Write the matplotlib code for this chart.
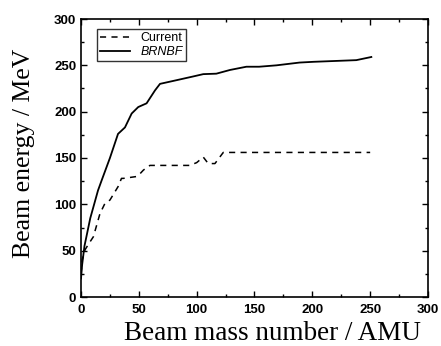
import matplotlib
matplotlib.use("Agg")
import matplotlib.pyplot as plt
from matplotlib.ticker import MultipleLocator

# Data
current_x = [0, 1, 3.5, 7, 10.7, 16.4, 20.7, 25, 32, 35, 36.6, 48, 51, 54, 59.6, 75, 94, 100, 105.7, 110, 115.8, 123, 150, 200, 250]
current_y = [25, 40, 51, 58, 65, 90, 101, 104.6, 119, 128, 128, 130, 133, 137, 142, 142, 142, 145, 151, 144, 144, 156, 156, 156, 156]

brnbf_x = [0, 1, 3, 8, 14.7, 17.9, 25, 32, 38, 43.8, 49.5, 56.7, 64, 68.3, 82.7, 97, 105.7, 117, 128.8, 143, 154, 169, 189, 201, 238, 251]
brnbf_y = [20, 35, 55, 85, 115, 126, 150, 176, 183, 198, 205, 209, 223, 230, 234, 238, 240.5, 241, 245, 248.5, 248.5, 250, 253, 253.8, 255.6, 259]

x_ticks = [0, 50, 100, 150, 200, 250, 300]
y_ticks = [0, 50, 100, 150, 200, 250, 300]

W, H = 441, 346
fig = plt.figure(figsize=(W / 100, H / 100), dpi=100)
ax = fig.add_axes([81 / W, 1 - 297 / H, (428 - 81) / W, (297 - 19) / H])

ax.plot(current_x, current_y, color="black", lw=1.1, ls=(0, (4, 3.5)), label="Current")
ax.plot(brnbf_x, brnbf_y, color="black", lw=1.3, ls="-", label="BRNBF")

ax.set_xlim(0, 300)
ax.set_ylim(0, 300)
ax.set_xticks(x_ticks)
ax.set_yticks(y_ticks)
ax.xaxis.set_minor_locator(MultipleLocator(25))
ax.yaxis.set_minor_locator(MultipleLocator(25))
ax.tick_params(which="both", direction="in", top=True, right=True, width=1.0)
ax.tick_params(which="major", length=4, labelsize=9.5)
ax.tick_params(which="minor", length=2.5)
ax.tick_params(axis="x", which="major", pad=5)
ax.tick_params(axis="y", which="major", pad=3.5)
for lab in ax.get_xticklabels() + ax.get_yticklabels():
    lab.set_fontfamily("Liberation Sans")
    lab.set_fontweight("bold")
for s in ax.spines.values():
    s.set_linewidth(1.2)

fig.text(273 / W, 1 - 340 / H, "Beam mass number / AMU", fontfamily="Liberation Serif",
         fontsize=19.5, ha="center", va="baseline")
fig.text(24 / W, 1 - 153 / H, "Beam energy / MeV", fontfamily="Liberation Serif",
         fontsize=18.5, ha="center", va="center", rotation=90)

leg = ax.legend(loc="upper left", bbox_to_anchor=((97 - 81) / 347, (297 - 29) / 278),
                borderaxespad=0, frameon=True, fancybox=False,
                edgecolor="black", prop={"family": "Liberation Sans", "size": 9},
                handlelength=2.4, borderpad=0.25, labelspacing=0.15, handletextpad=0.8)
leg.get_frame().set_linewidth(1.0)
leg.get_texts()[1].set_fontstyle("italic")

fig.savefig("out.png", dpi=100)
